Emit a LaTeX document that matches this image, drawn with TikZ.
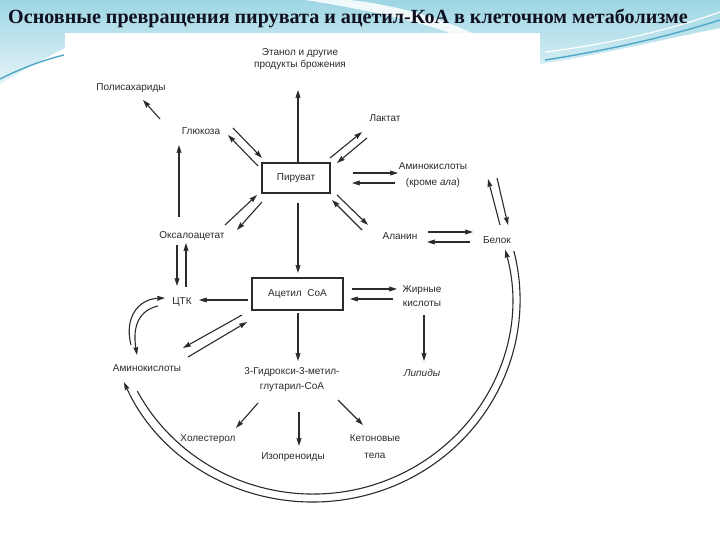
\documentclass[tikz,border=0pt]{standalone}
\usepackage{fontspec}
\setmainfont{Liberation Sans}
\newfontfamily\titlefont{Liberation Serif}
\usetikzlibrary{arrows.meta}
\definecolor{ink}{HTML}{2B2B2B}
\definecolor{bandtop}{HTML}{9ED6E4}
\definecolor{bandbot}{HTML}{E4F4F8}
\definecolor{streak}{HTML}{4FA8C8}
\definecolor{titlecol}{HTML}{101020}
\begin{document}
\begin{tikzpicture}[x=1pt,y=-1pt,
  arr/.style={draw=ink, line width=1.1pt, -{Stealth[length=8pt,width=5pt,inset=1pt]}},
  lbl/.style={font=\fontsize{10}{12.5}\selectfont, text=ink, inner sep=0pt, align=center},
  boxnode/.style={lbl, draw=ink, line width=1.2pt}]
\useasboundingbox (0,0) rectangle (720,540);
% background
\fill[white] (0,0) rectangle (720,540);
\shade[top color=bandtop, bottom color=bandbot] (0,0) -- (720,0) -- (720,28)
  .. controls (660,40) and (600,55) .. (540,64) -- (65,64) -- (65,48)
  .. controls (45,58) and (20,72) .. (0,84) -- cycle;
\fill[white, opacity=0.85] (305,0) .. controls (370,10) and (420,22) .. (450,33)
  -- (472,33) .. controls (440,18) and (395,5) .. (350,0) -- cycle;
\draw[streak, line width=1.4pt] (0,79) .. controls (20,69) and (40,61) .. (64,55);
\draw[streak, line width=1.4pt] (545,60) .. controls (610,50) and (670,36) .. (720,20);
\draw[white, line width=1.2pt] (545,52) .. controls (610,44) and (670,30) .. (720,12);
\fill[white] (65,33) rectangle (540,525);
% title
\node[font=\titlefont\bfseries\fontsize{20.1}{22}\selectfont, text=titlecol, anchor=base west, inner sep=0pt]
  (title) at (8,24) {Основные превращения пирувата и ацетил-КоА в клеточном метаболизме};
% nodes
\node[boxnode, minimum width=68pt, minimum height=30pt] (pyr) at (296,178) {Пируват};
\node[boxnode, minimum width=91pt, minimum height=32pt] (acoa) at (297.5,294) {Ацетил\ \ CoA};
\node[lbl] (eth) at (300,59) {Этанол и другие\\продукты брожения};
\node[lbl] (poly) at (131,88) {Полисахариды};
\node[lbl] (gluc) at (201,131) {Глюкоза};
\node[lbl] (lact) at (385,118) {Лактат};
\node[lbl, font=\fontsize{10}{16}\selectfont] (aa1) at (433,175) {Аминокислоты\\(кроме \textit{ала})};
\node[lbl] (oxa) at (192,236) {Оксалоацетат};
\node[lbl] (ala) at (400,236) {Аланин};
\node[lbl] (bel) at (497,240) {Белок};
\node[lbl] (tca) at (182,302) {ЦТК};
\node[lbl, font=\fontsize{10}{14}\selectfont] (fa) at (422,296) {Жирные\\кислоты};
\node[lbl] (aa2) at (147,368) {Аминокислоты};
\node[lbl, font=\fontsize{10}{15}\selectfont] (hmg) at (292,380) {3-Гидрокси-3-метил-\\глутарил-CoA};
\node[lbl, font=\fontsize{10}{12.5}\selectfont\itshape] (lip) at (422,373) {Липиды};
\node[lbl] (chol) at (208,439) {Холестерол};
\node[lbl] (iso) at (293,457) {Изопреноиды};
\node[lbl, font=\fontsize{10}{17}\selectfont] (ket) at (375,447) {Кетоновые\\тела};
% connector end points
\coordinate (ps1) at (160,119); \coordinate (ps2) at (143,100);
\coordinate (gp1) at (233,128); \coordinate (gp2) at (262,158);
\coordinate (pg1) at (258,166); \coordinate (pg2) at (228,135);
\coordinate (og1) at (179,217); \coordinate (og2) at (179,145);
\coordinate (pe1) at (298,163); \coordinate (pe2) at (298,90);
\coordinate (pl1) at (330,158); \coordinate (pl2) at (362,132);
\coordinate (lp1) at (367,138); \coordinate (lp2) at (337,163);
\coordinate (pa1) at (353,173); \coordinate (pa2) at (398,173);
\coordinate (ap1) at (395,183); \coordinate (ap2) at (352,183);
\coordinate (pal1) at (337,195); \coordinate (pal2) at (368,225);
\coordinate (alp1) at (362,230); \coordinate (alp2) at (332,200);
\coordinate (ab1) at (428,232); \coordinate (ab2) at (473,232);
\coordinate (ba1) at (470,242); \coordinate (ba2) at (427,242);
\coordinate (bu1) at (500,225); \coordinate (bu2) at (488,179);
\coordinate (bd1) at (497,178); \coordinate (bd2) at (508,225);
\coordinate (op1) at (225,225); \coordinate (op2) at (257,195);
\coordinate (po1) at (262,202); \coordinate (po2) at (237,230);
\coordinate (ot1) at (177,245); \coordinate (ot2) at (177,286);
\coordinate (to1) at (186,287); \coordinate (to2) at (186,243);
\coordinate (pc1) at (298,203); \coordinate (pc2) at (298,273);
\coordinate (ct1) at (248,300); \coordinate (ct2) at (199,300);
\coordinate (caa1) at (242,315); \coordinate (caa2) at (183,348);
\coordinate (aac1) at (188,357); \coordinate (aac2) at (247,322);
\coordinate (cf1) at (352,289); \coordinate (cf2) at (397,289);
\coordinate (fc1) at (393,299); \coordinate (fc2) at (350,299);
\coordinate (fl1) at (424,315); \coordinate (fl2) at (424,361);
\coordinate (ch1) at (298,313); \coordinate (ch2) at (298,361);
\coordinate (hc1) at (258,403); \coordinate (hc2) at (236,428);
\coordinate (hi1) at (299,412); \coordinate (hi2) at (299,446);
\coordinate (hk1) at (338,400); \coordinate (hk2) at (363,425);
% connectors
\draw[arr] (ps1) -- (ps2);
\draw[arr] (gp1) -- (gp2);
\draw[arr] (pg1) -- (pg2);
\draw[arr] (og1) -- (og2);
\draw[arr] (pe1) -- (pe2);
\draw[arr] (pl1) -- (pl2);
\draw[arr] (lp1) -- (lp2);
\draw[arr] (pa1) -- (pa2);
\draw[arr] (ap1) -- (ap2);
\draw[arr] (pal1) -- (pal2);
\draw[arr] (alp1) -- (alp2);
\draw[arr] (ab1) -- (ab2);
\draw[arr] (ba1) -- (ba2);
\draw[arr] (bu1) -- (bu2);
\draw[arr] (bd1) -- (bd2);
\draw[arr] (op1) -- (op2);
\draw[arr] (po1) -- (po2);
\draw[arr] (ot1) -- (ot2);
\draw[arr] (to1) -- (to2);
\draw[arr] (pc1) -- (pc2);
\draw[arr] (ct1) -- (ct2);
\draw[arr] (caa1) -- (caa2);
\draw[arr] (aac1) -- (aac2);
\draw[arr] (cf1) -- (cf2);
\draw[arr] (fc1) -- (fc2);
\draw[arr] (fl1) -- (fl2);
\draw[arr] (ch1) -- (ch2);
\draw[arr] (hc1) -- (hc2);
\draw[arr] (hi1) -- (hi2);
\draw[arr] (hk1) -- (hk2);
% TCA <-> amino acids curves
\coordinate (ta1) at (131,345); \coordinate (ta2) at (165,298);
\coordinate (at1) at (158,306); \coordinate (at2) at (137,355);
\draw[arr] (ta1) .. controls (124,318) and (138,299) .. (ta2);
\draw[arr] (at1) .. controls (140,310) and (132,325) .. (at2);
% big double arc protein <-> amino acids
\coordinate (arcR) at (513.9,251.1);
\coordinate (arcL) at (137.3,391.1);
\draw[arr] (arcR) arc[start angle=-14, end angle=156, x radius=207, y radius=202];
\draw[arr] (arcL) arc[start angle=152, end angle=-15, x radius=199, y radius=194];
\end{tikzpicture}
\end{document}
